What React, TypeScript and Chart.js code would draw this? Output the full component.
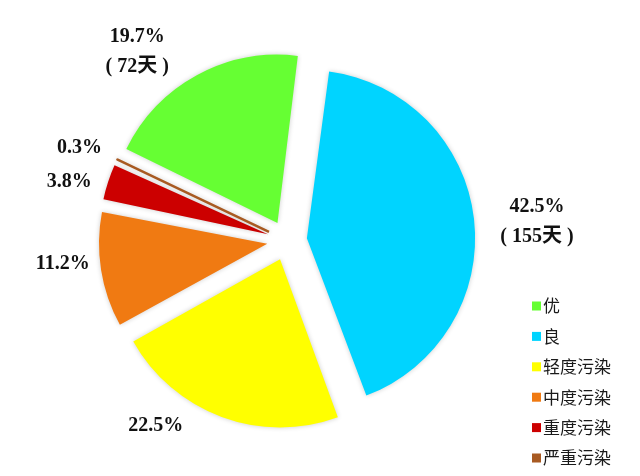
import React, { useEffect, useRef } from "react";
import { Chart, registerables } from "chart.js";

Chart.register(...registerables);

// ---- data ----
const categories = ["优", "良", "轻度污染", "中度污染", "重度污染", "严重污染"];
const days = [72, 155, 82, 41, 14, 1];
const percentLabels = ["19.7%", "42.5%", "22.5%", "11.2%", "3.8%", "0.3%"];
const showDays = [true, true, false, false, false, false];
const colors = ["#66FF33", "#00D4FF", "#FFFF00", "#F07A12", "#CC0000", "#A85A22"];

// ---- styling ----
const sliceOffset = 80; // Chart.js translates each slice by offset/4
const sliceBorder = [0, 0, 0, 0, 0, 2.5];
const startRotation = -64; // degrees, clockwise from 12 o'clock
const labelAngleShift = [-10, 2.3, 15, 3, -3, -1.5]; // degrees
const labelDistance = [1.43, 1.49, 1.35, 1.34, 1.34, 1.35]; // × radius
const labelFont = "bold 20px 'Liberation Serif', 'Noto Sans CJK SC', serif";
const legendFont = "17px 'Noto Sans CJK SC', sans-serif";

const fixRadiusPlugin = {
  id: "fixRadius",
  afterDatasetUpdate(chart: any, args: any) {
    const meta = chart.getDatasetMeta(args.index);
    meta.data.forEach((arc: any) => {
      const off = ((arc.options && arc.options.offset) || 0) / 4;
      const fix = 1 - Math.sin(Math.min(Math.PI, arc.circumference || 0));
      arc.outerRadius = arc.outerRadius - off * fix;
    });
  },
};

const shadowPlugin = {
  id: "sliceShadow",
  beforeDatasetsDraw(chart: any) {
    const ctx = chart.ctx;
    ctx.save();
    ctx.shadowColor = "rgba(0,0,0,0.2)";
    ctx.shadowBlur = 5;
  },
  afterDatasetsDraw(chart: any) {
    chart.ctx.restore();
  },
};

const labelPlugin = {
  id: "sliceLabels",
  afterDraw(chart: any) {
    const ctx = chart.ctx;
    const meta = chart.getDatasetMeta(0);
    const baseR = meta.controller.outerRadius;
    ctx.save();
    ctx.font = labelFont;
    ctx.fillStyle = "#111";
    ctx.textAlign = "center";
    ctx.textBaseline = "middle";
    meta.data.forEach((arc: any, i: number) => {
      const mid = (arc.startAngle + arc.endAngle) / 2 + (labelAngleShift[i] * Math.PI) / 180;
      const r = baseR * labelDistance[i];
      const x = arc.x + Math.cos(mid) * r;
      const y = arc.y + Math.sin(mid) * r;
      const lines = showDays[i] ? [percentLabels[i], `( ${days[i]}天 )`] : [percentLabels[i]];
      const lh = 30;
      lines.forEach((t, k) => {
        ctx.fillText(t, x, y + (k - (lines.length - 1) / 2) * lh);
      });
    });

    // legend
    ctx.font = legendFont;
    ctx.textAlign = "left";
    ctx.textBaseline = "middle";
    const lx = 532;
    const ly = 306;
    const step = 30.4;
    categories.forEach((c, i) => {
      const y = ly + i * step;
      ctx.fillStyle = colors[i];
      ctx.fillRect(lx, y - 4.5, 9, 9);
      ctx.fillStyle = "#1a1a1a";
      ctx.fillText(c, lx + 11, y);
    });
    ctx.restore();
  },
};

export default function App() {
  const canvasRef = useRef<HTMLCanvasElement | null>(null);

  useEffect(() => {
    document.body.style.margin = "0";
    const chart = new Chart(canvasRef.current as HTMLCanvasElement, {
      type: "pie",
      data: {
        labels: categories,
        datasets: [
          {
            data: days,
            backgroundColor: colors,
            borderColor: colors,
            borderWidth: sliceBorder,
            borderAlign: "center",
            offset: sliceOffset,
            hoverOffset: sliceOffset,
          } as any,
        ],
      },
      options: {
        animation: false,
        responsive: true,
        maintainAspectRatio: false,
        rotation: startRotation,
        layout: { padding: { top: 31, bottom: 26, left: 40, right: 106 } },
        plugins: {
          legend: { display: false },
          tooltip: { enabled: false },
          title: { display: false },
        },
        events: [],
      },
      plugins: [fixRadiusPlugin, shadowPlugin, labelPlugin],
    });
    return () => chart.destroy();
  }, []);

  return (
    <div style={{ position: "absolute", left: 0, top: 0, width: 640, height: 476, background: "#fff" }}>
      <canvas ref={canvasRef} />
    </div>
  );
}
